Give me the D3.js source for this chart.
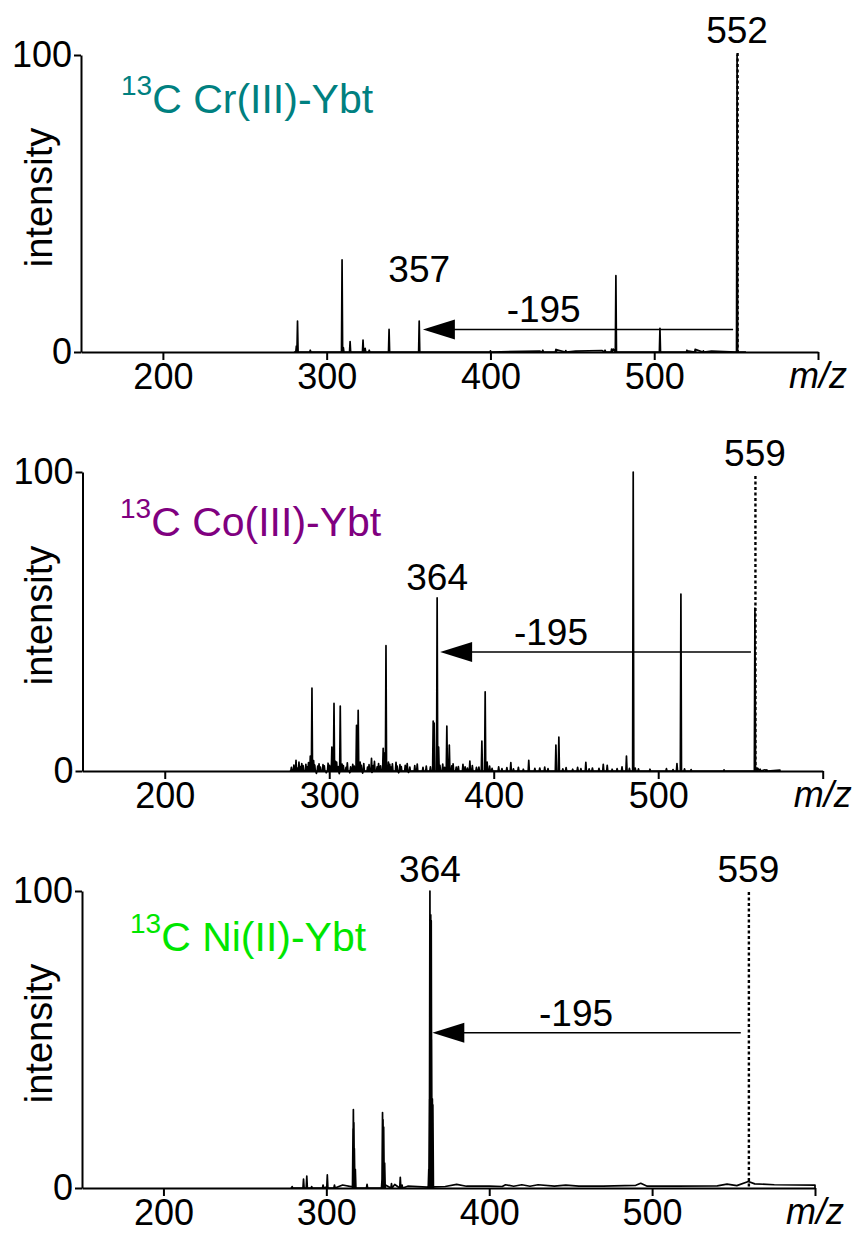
<!DOCTYPE html>
<html>
<head>
<meta charset="utf-8">
<script src="https://cdn.jsdelivr.net/npm/d3@7"></script>
<style>
  body { margin: 0; background: #fff; }
  svg text { font-family: "Liberation Sans", Arial, Helvetica, sans-serif; }
</style>
</head>
<body>
<div id="chart"></div>
<script>
// m/z vs relative intensity (%)
var crPeaks = [
  [281.5, 2], [282.2, 10.4], [290, 0.6], [309.4, 31], [310.2, 1.5], [314.3, 3.5],
  [322.2, 4], [323.5, 1.2], [326, 0.6], [338.1, 7.6], [356.5, 10.4], [400, 0.4],
  [432, 0.6], [440, 0.9], [446, 0.5], [470, 0.6], [474, 1], [476.6, 25.7],
  [503.5, 8], [520, 0.6], [525, 0.8], [530, 0.4], [550.6, 100]
];
var crBase = [[430, 0.3], [440, 0.8], [452, 0.3], [468, 0.5], [475, 1], [520, 0.4], [525, 0.9], [535, 0.3]];

var coPeaks = [
  [279.8, 3.6], [288.5, 5], [289.5, 27.7], [301.6, 8], [302.9, 22.6], [304.5, 3],
  [306.7, 21.7], [316.6, 15.3], [317.6, 20.3], [325.7, 4.2], [330, 2.5], [332.8, 7.6],
  [333.6, 6], [334.5, 41.9], [336, 3], [363.2, 16.7], [363.8, 16], [365.6, 57.9],
  [366.5, 8], [371.5, 15], [373, 8.7], [385.5, 3.3], [392.8, 10], [394.8, 26.5],
  [396, 3], [410.4, 2.8], [421.3, 3.6], [437.8, 8.7], [439.6, 11.3], [456, 2.9],
  [466.6, 2.2], [469, 1.9], [480.7, 5], [484.8, 100], [486, 1], [511.4, 2.5],
  [513.8, 59.2], [558.8, 54.5], [560, 1]
];
var coNoise = [
  [277, 1.2], [278.5, 2], [280.8, 1], [281.6, 3], [282.4, 1.5], [283.3, 2.5], [284.1, 1.8],
  [285.8, 2.2], [286.7, 1.4], [287.4, 2.8], [290.5, 3.5], [291.2, 2], [292.2, -0.8],
  [293, 1.6], [293.8, 2.4], [294.6, 1.3], [296.2, 2.1], [297, 1.7], [298.2, -0.6],
  [299.3, 2.6], [300.2, 1.9], [303.8, 3.2], [305.5, 1.5], [306.1, -0.9], [307.8, 2.3],
  [308.6, 1.8], [310.2, 1.2], [311, 2.7], [312.5, -0.6], [313, 1.4], [314.3, 2.2],
  [315.2, 1.6], [318.8, 3], [319.5, 1.9], [320.3, -0.7], [321, 2.5], [323.3, 1.3],
  [324.2, 2.1], [326, -0.5], [326.8, 1.8], [327.5, 3.2], [329.1, 1.4], [331.2, 1.7],
  [336.8, 2.2], [337.6, 1.3], [338.4, 2.4], [340.6, 2.9], [341.3, 1.6], [342.2, -0.6],
  [343, 2.1], [343.8, 1.5], [346.2, 1.9], [347.4, 2.5], [348.2, -0.5], [349, 1.3],
  [352, 1.8], [353.5, 2.3], [357, 1.2], [359, 1.6], [361.5, 1.4], [367.3, 1.9],
  [369, 2.3], [370.2, 1.2], [374.5, 1.7], [375.3, 2.4], [377.2, 1.3], [378.5, 1.5],
  [381.3, 2.2], [382.6, 1.4], [384, 1], [387, 1.8], [389.5, 1.2], [391, 1.3],
  [397.5, 1.6], [399, 0.9], [403, 1.4], [405, 0.8], [408, 1.1], [412, 0.7], [415, 1.2],
  [418, 0.6], [425, 0.9], [428, 1], [431, 1.3], [433, 0.8], [442, 0.7], [444, 1.1],
  [448, 0.6], [451, 1.2], [453, 0.8], [458, 0.7], [460, 1], [464, 0.9], [472, 0.6],
  [475, 0.8], [478, 1.4], [482.5, 0.9], [488, 0.7], [495, 0.6], [505, 0.8], [509, 0.5],
  [516, 0.7], [520, 0.5], [540, 0.4], [562, 0.6], [566, 0.4]
];
var coBase = [[560.5, 0.9], [565, 0.4], [574, 0.3]];

var niPeaks = [
  [279, 0.5], [286, 3], [288, 4], [291, 0.5], [298, 1], [300.6, 4.4], [305, 1],
  [316.4, 20], [316.6, 26.4], [316.9, 22], [317.2, 13.3], [317.8, 6.3], [325, 1.2],
  [334.2, 3], [334.5, 25.4], [334.8, 23], [335.2, 20.5], [335.8, 8.4], [340, 1.5],
  [345.4, 3.6], [346.5, 1], [362.9, 6.3], [363.3, 30], [363.6, 100], [363.9, 92],
  [364.1, 92], [364.4, 90], [364.6, 50], [365.1, 30], [365.4, 28]
];
var niBase = [
  [300, 0.3], [310, 1], [316, 0.4], [336.3, 1], [342, 1.2], [350, 0.6], [362, 0.3],
  [366, 0.4], [373, 0.5], [380, 1.2], [386, 0.6], [400, 0.6], [408, 0.5], [410, 1.1],
  [415, 0.6], [420, 1.1], [425, 0.6], [430, 1.1], [440, 0.6], [447, 1], [455, 0.6],
  [470, 0.6], [490, 0.9], [493, 1.6], [497, 0.6], [515, 0.6], [540, 0.7], [546, 1.3],
  [552, 0.8], [559.1, 2.2], [563, 1.4], [575, 1.1], [600, 1]
];

var xTicks = [200, 300, 400, 500, 600];
var yTicks = [0, 100];
var titles = ["Cr(III)-Ybt", "Co(III)-Ybt", "Ni(II)-Ybt"];
var titleColors = ["#008080", "#800080", "#00e600"];
var productLabels = ["357", "364", "364"];
var productMz = [356.5, 365.6, 363.6];
var precursorLabels = ["552", "559", "559"];
var precursorMz = [550.6, 558.8, 559.1];
var lossLabel = "-195";

// layout per panel (pixels and annotation placement)
var layout = [
  { peaks: crPeaks, noise: [], base: crBase, span: [280, 556], x0: 81, x1: 818, yTop: 55, yBot: 352,
    prodY: 23.5, precY: 104, arrowY: 7.6, lossMz: 432.5, titleX: 121, titleY: 113, tipGap: 3.7, endGap: 4 },
  { peaks: coPeaks, noise: coNoise, base: coBase, span: [276, 574], x0: 82.5, x1: 822.7, yTop: 472, yBot: 771,
    prodY: 60.5, precY: 102, arrowY: 39.8, lossMz: 434.8, titleX: 120, titleY: 536, tipGap: 3, endGap: 4 },
  { peaks: niPeaks, noise: [], base: niBase, span: [278, 600], x0: 82, x1: 815, yTop: 891, yBot: 1188,
    prodY: 103, precY: 103, arrowY: 52.3, lossMz: 453.3, titleX: 130, titleY: 951, tipGap: 2.4, endGap: 7.6 }
];

var svg = d3.select('#chart').append('svg')
  .attr('width', 853)
  .attr('height', 1233);

// sticks go up from zero; baseline points are joined as they are
function buildTrace(sticks, base, span) {
  var pts = [{ m: span[0], h: 0, s: false }];
  sticks.forEach(function(p) { pts.push({ m: p[0], h: p[1], s: true }); });
  base.forEach(function(p) { pts.push({ m: p[0], h: p[1], s: false }); });
  pts.push({ m: span[1], h: 0, s: false });
  pts.sort(function(a, b) { return a.m - b.m; });
  var out = [];
  pts.forEach(function(p) {
    if (p.s) out.push([p.m - 0.35, 0], [p.m, p.h], [p.m + 0.35, 0]);
    else out.push([p.m, p.h]);
  });
  return out;
}

layout.forEach(function(L, i) {
  var x = d3.scaleLinear().domain([150, 600]).range([L.x0, L.x1]);
  var y = d3.scaleLinear().domain([0, 100]).range([L.yBot, L.yTop]);
  var g = svg.append('g');

  // spectrum trace
  var line = d3.line()
    .x(function(d) { return x(d[0]); })
    .y(function(d) { return y(d[1]); });
  g.append('path')
    .datum(buildTrace(L.peaks.concat(L.noise), L.base, L.span))
    .attr('d', line)
    .attr('fill', 'none')
    .attr('stroke', '#000')
    .attr('stroke-width', 1.7)
    .attr('stroke-linejoin', 'round');

  // axes
  var xAxis = g.append('g')
    .attr('transform', 'translate(0,' + L.yBot + ')')
    .call(d3.axisBottom(x).tickValues(xTicks).tickSize(8).tickSizeOuter(0).tickPadding(3)
      .tickFormat(function(d) { return d === 600 ? '' : d; }));
  var yAxis = g.append('g')
    .attr('transform', 'translate(' + L.x0 + ',0)')
    .call(d3.axisLeft(y).tickValues(yTicks).tickSize(7).tickSizeOuter(0).tickPadding(2));
  [xAxis, yAxis].forEach(function(a) {
    a.attr('font-size', 36).attr('font-family', '"Liberation Sans", Arial, sans-serif');
    a.selectAll('path, line').attr('stroke', '#000').attr('stroke-width', 2);
    a.selectAll('text').attr('fill', '#000');
  });

  // axis titles
  g.append('text')
    .attr('x', L.x1)
    .attr('y', L.yBot + 36)
    .attr('text-anchor', 'middle')
    .attr('font-size', 36)
    .attr('font-style', 'italic')
    .text('m/z');
  g.append('text')
    .attr('transform', 'translate(52,' + ((L.yTop + L.yBot) / 2 - 6) + ') rotate(-90)')
    .attr('text-anchor', 'middle')
    .attr('font-size', 38)
    .text('intensity');

  // sample title with superscript
  var t = g.append('text')
    .attr('x', L.titleX)
    .attr('y', L.titleY)
    .attr('fill', titleColors[i]);
  t.append('tspan').attr('font-size', 28).attr('dy', -18).text('13');
  t.append('tspan').attr('font-size', 41).attr('dy', 18).text('C ' + titles[i]);

  // precursor dotted line
  g.append('line')
    .attr('x1', x(precursorMz[i]) + 0.5)
    .attr('x2', x(precursorMz[i]) + 0.5)
    .attr('y1', y(L.precY) + 10)
    .attr('y2', L.yBot)
    .attr('stroke', '#000')
    .attr('stroke-width', 2.4)
    .attr('stroke-dasharray', '3,2.5');

  // peak labels
  g.append('text')
    .attr('x', x(productMz[i]))
    .attr('y', y(L.prodY))
    .attr('text-anchor', 'middle')
    .attr('font-size', 37)
    .text(productLabels[i]);
  g.append('text')
    .attr('x', x(precursorMz[i]))
    .attr('y', y(L.precY))
    .attr('text-anchor', 'middle')
    .attr('font-size', 37)
    .text(precursorLabels[i]);

  // neutral loss arrow
  var ay = y(L.arrowY);
  var tip = x(productMz[i]) + L.tipGap;
  var tail = x(precursorMz[i]) - L.endGap;
  g.append('line')
    .attr('x1', tip + 20).attr('x2', tail)
    .attr('y1', ay).attr('y2', ay)
    .attr('stroke', '#000')
    .attr('stroke-width', 1.5);
  g.append('path')
    .attr('d', 'M' + tip + ',' + ay + 'L' + (tip + 32) + ',' + (ay - 10) + 'L' + (tip + 32) + ',' + (ay + 10) + 'Z')
    .attr('fill', '#000');
  g.append('text')
    .attr('x', x(L.lossMz))
    .attr('y', ay - 7)
    .attr('text-anchor', 'middle')
    .attr('font-size', 37)
    .text(lossLabel);
});
</script>
</body>
</html>
